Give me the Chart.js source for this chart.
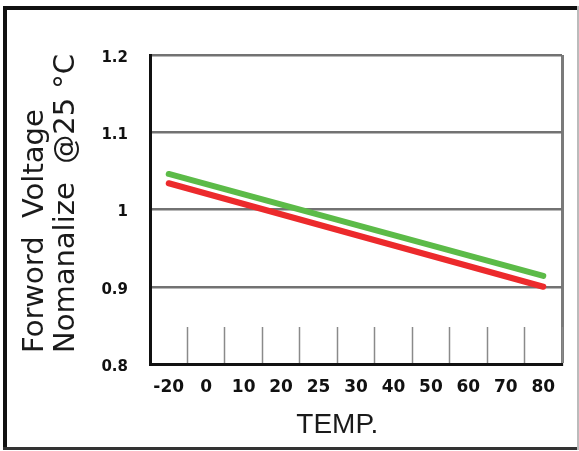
<!DOCTYPE html>
<html>
<head>
<meta charset="utf-8">
<script src="https://cdn.jsdelivr.net/npm/chart.js@4/dist/chart.umd.min.js"></script>
<style>
  html, body { margin: 0; padding: 0; background: #fff; }
  canvas { display: block; }
</style>
</head>
<body>
<canvas id="c" width="579" height="451"></canvas>
<script>
// ---- data ----
const tempLabels = ['-20', '0', '10', '20', '25', '30', '40', '50', '60', '70', '80'];
const yTickLabels = ['0.8', '0.9', '1', '1.1', '1.2'];
const lineTemps = ['-20', '80'];
const greenValues = [1.046, 0.914];
const redValues = [1.034, 0.900];
const yTitleLines = ['Forword  Voltage', 'Nomanalize  @25 °C'];
const xTitle = 'TEMP.';

const toPoints = (xs, ys) => xs.map((x, i) => ({ x: x, y: ys[i] }));

const framePlugin = {
  id: 'frame',
  beforeDraw(chart) {
    const c = chart.ctx;
    c.save();
    c.fillStyle = '#fff';
    c.fillRect(0, 0, chart.width, chart.height);
    c.fillStyle = '#111';
    c.fillRect(3, 6, 4, 444);      // left
    c.fillRect(3, 6, 576, 4);      // top
    c.fillStyle = '#333';
    c.fillRect(3, 447, 576, 3);    // bottom
    c.fillStyle = '#bbb';
    c.fillRect(577, 6, 2, 444);    // right
    c.restore();
  }
};

const titlesPlugin = {
  id: 'titles',
  afterDraw(chart) {
    const c = chart.ctx;
    const a = chart.chartArea;
    const xs = chart.scales.x;
    c.save();
    c.fillStyle = '#1a1a1a';
    c.font = '29px "DejaVu Sans"';
    c.textAlign = 'left';
    c.textBaseline = 'alphabetic';
    const baseX = [a.left - 107, a.left - 76];
    yTitleLines.forEach((t, i) => {
      c.save();
      c.translate(baseX[i], a.bottom - 11);
      c.rotate(-Math.PI / 2);
      c.fillText(t, 0, 0);
      c.restore();
    });
    c.font = '28px "Liberation Sans"';
    c.textAlign = 'center';
    const cx = (xs.getPixelForValue(tempLabels.indexOf('25')) + xs.getPixelForValue(tempLabels.indexOf('30'))) / 2;
    c.fillText(xTitle, cx, a.bottom + 69);
    c.restore();
  }
};

new Chart(document.getElementById('c'), {
  type: 'line',
  data: {
    labels: tempLabels,
    datasets: [
      {
        label: 'Green',
        data: toPoints(lineTemps, greenValues),
        borderColor: '#5cbb48',
        borderWidth: 6,
        borderCapStyle: 'round',
        pointRadius: 0,
        tension: 0,
        fill: false
      },
      {
        label: 'Red',
        data: toPoints(lineTemps, redValues),
        borderColor: '#ec2a2c',
        borderWidth: 6,
        borderCapStyle: 'round',
        pointRadius: 0,
        tension: 0,
        fill: false
      }
    ]
  },
  options: {
    responsive: false,
    animation: false,
    devicePixelRatio: 1,
    layout: { padding: { top: 55, right: 17, left: 0, bottom: 0 } },
    plugins: {
      legend: { display: false },
      tooltip: { enabled: false },
      title: { display: false }
    },
    scales: {
      x: {
        type: 'category',
        offset: true,
        grid: {
          offset: true,
          drawOnChartArea: true,
          drawTicks: true,
          tickLength: -37,
          color: (ctx) => ctx.type === 'tick' ? 'rgba(0,0,0,0)' : '#7a7a7a',
          lineWidth: (ctx) => ctx.type === 'tick' ? 1 : 3,
          tickColor: '#8a8a8a',
          tickWidth: 1.5
        },
        border: { display: true, color: '#111', width: 3 },
        ticks: {
          autoSkip: false,
          maxRotation: 0,
          padding: 50,
          color: '#111',
          font: { family: '"DejaVu Sans"', weight: 'bold', size: 17 }
        },
        afterFit(scale) {
          scale.height = 87;
          scale.paddingLeft = 0;
          scale.paddingRight = 0;
        }
      },
      y: {
        type: 'linear',
        min: 0.8,
        max: 1.2,
        ticks: {
          stepSize: 0.1,
          padding: 22,
          labelOffset: 3,
          color: '#111',
          font: { family: '"DejaVu Sans"', weight: 'bold', size: 15 },
          callback: (v, i) => yTickLabels[i]
        },
        grid: {
          drawTicks: false,
          color: '#727272',
          lineWidth: 2.5
        },
        border: { display: true, color: '#111', width: 3 },
        afterFit(scale) { scale.width = 150; }
      }
    }
  },
  plugins: [framePlugin, titlesPlugin]
});
</script>
</body>
</html>
